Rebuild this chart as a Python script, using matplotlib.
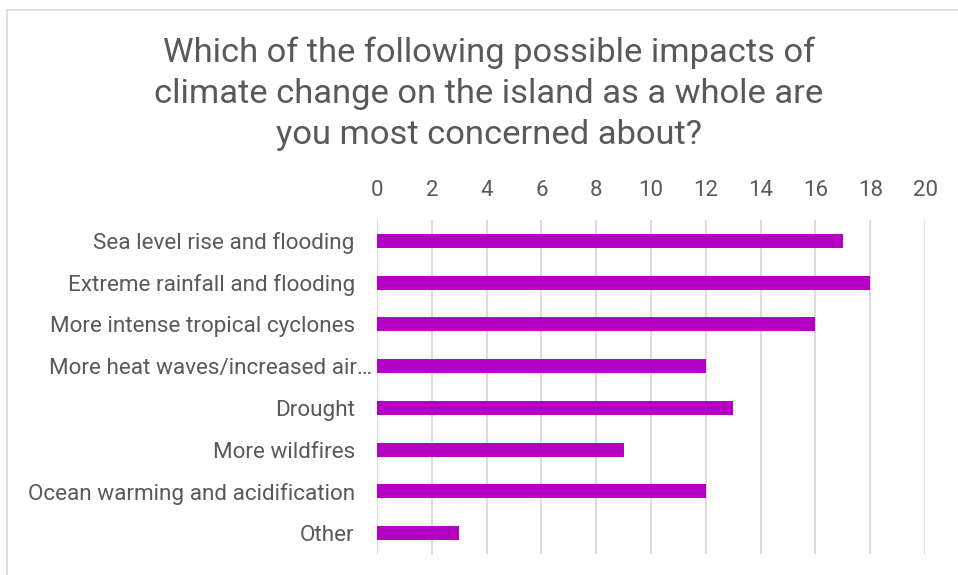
import matplotlib.pyplot as plt
from matplotlib.patches import Rectangle
from matplotlib.transforms import ScaledTranslation

plt.rcParams['font.family'] = ['Roboto', 'DejaVu Sans']

categories = [
    "Sea level rise and flooding",
    "Extreme rainfall and flooding",
    "More intense tropical cyclones",
    "More heat waves/increased air\u2026",
    "Drought",
    "More wildfires",
    "Ocean warming and acidification",
    "Other",
]
counts = [17, 18, 16, 12, 13, 9, 12, 3]
x_ticks = list(range(0, 21, 2))

title = ("Which of the following possible impacts of\n"
         "climate change on the island as a whole are\n"
         "you most concerned about?")

text_color = "#595959"
bar_color = "#B300C3"
grid_color = "#D9D9D9"

fig = plt.figure(figsize=(9.58, 5.75), dpi=100)
# outer chart frame (only top and left edges fall inside the image)
fig.patches.append(Rectangle((7 / 958, -0.1), 1.2, 1 - 10 / 575 + 0.1,
                             transform=fig.transFigure, fill=False,
                             edgecolor=grid_color, linewidth=1.2))

ax = fig.add_axes([377 / 958, 1 - 554 / 575, (925 - 377) / 958, (554 - 220) / 575])

y = list(range(len(categories)))
ax.barh(y, counts, height=0.34, color=bar_color, zorder=3)

ax.set_xlim(0, 20)
ax.set_ylim(len(categories) - 0.5, -0.5)
ax.set_xticks(x_ticks)
ax.set_yticks(y)
ax.set_yticklabels(categories)
ax.xaxis.tick_top()
ax.tick_params(axis='x', length=0, pad=14, labelsize=16, labelcolor=text_color)
ax.tick_params(axis='y', length=0, pad=16, labelsize=16.2, labelcolor=text_color)
ax.grid(axis='x', color=grid_color, linewidth=1.3, zorder=0)
for s in ax.spines.values():
    s.set_visible(False)

# the truncated label sits closer to the axis
lbl = ax.get_yticklabels()[3]
lbl.set_transform(lbl.get_transform() + ScaledTranslation(0.17, 0, fig.dpi_scale_trans))

fig.text(489 / 958, 1 - 94 / 575, title, ha='center', va='center',
         fontsize=24.8, color=text_color, linespacing=1.37)

fig.savefig("out.png", dpi=100)
